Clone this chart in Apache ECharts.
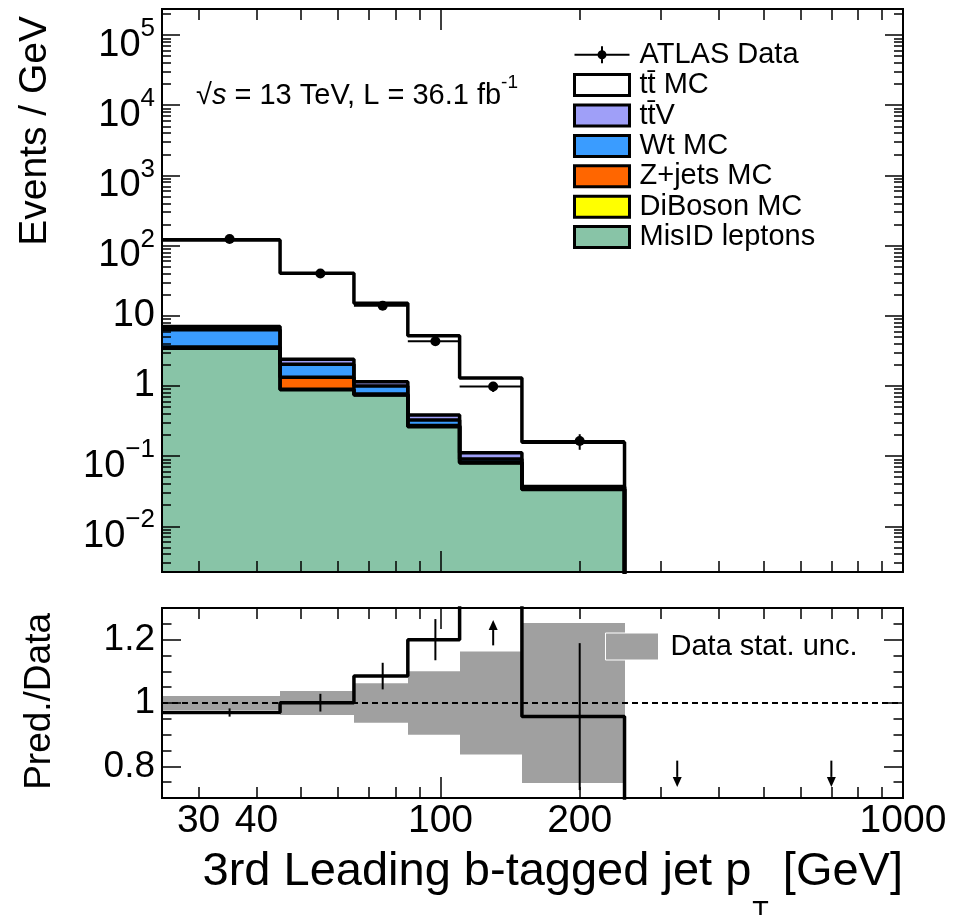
<!DOCTYPE html>
<html><head><meta charset="utf-8">
<script src="https://cdn.jsdelivr.net/npm/echarts@6/dist/echarts.min.js"></script>
<style>html,body{margin:0;padding:0;background:#fff}#c{width:967px;height:915px}</style>
</head><body><div id="c"></div>
<script>
// ---------------- data ----------------
const binEdges = [25, 45, 65, 85, 110, 150, 250, 400, 1000];
// stacked MC components per GeV (bins 25-45 ... 150-250)
const misID   = [3.45, 0.88, 0.74, 0.262, 0.080, 0.0335];
const diBoson = [0.03, 0.02, 0.01, 0.004, 0.001, 0.0003];
const zJets   = [0.12, 0.43, 0.02, 0.006, 0.001, 0.0003];
const wtMC    = [2.69, 0.71, 0.23, 0.055, 0.009, 0.0017];
const ttV     = [0.71, 0.36, 0.15, 0.059, 0.021, 0.0012];
const ttbarMC = [113, 38, 13.95, 4.81, 1.18, 0.120];
// ATLAS data
const dataVals = [124, 40, 13.9, 4.33, 0.98, 0.164];
const dataErr  = [2.7, 1.5, 0.86, 0.43, 0.16, 0.041];
// ratio panel (Pred./Data)
const ratioVals = [0.970, 1.001, 1.085, 1.200, 1.32, 0.957, 0, 0];
const ratioErr  = [0.013, 0.028, 0.042, 0.065, null, 0.232, null, null];
const statUnc   = [0.022, 0.038, 0.062, 0.100, 0.163, 0.253];
const arrowsUp   = [[130, 1.182, 1.262]];
const arrowsDown = [[325, 0.818, 0.735], [700, 0.818, 0.735]];
// axes / ticks
const xRange = [25, 1000];
const yRangeTop = [0.00223, 2.35e5];
const yRangeRatio = [0.7, 1.3];
const xMajorTicks = [100, 1000];
const xMinorTicks = [30, 40, 50, 60, 70, 80, 90, 200, 300, 400, 500, 600, 700, 800, 900];
const xTickLabels = [30, 40, 100, 200, 1000];
const yMajorTicks = [1e-2, 1e-1, 1, 10, 100, 1e3, 1e4, 1e5];
const yMinorTicks = [];
for (let k = -3; k <= 5; k++) for (let m = 2; m <= 9; m++) yMinorTicks.push(+(m * Math.pow(10, k)).toPrecision(6));
const rMajorTicks = [0.8, 1, 1.2];
const rMinorTicks = [0.75, 0.85, 0.9, 0.95, 1.05, 1.1, 1.15, 1.25];

const FF = '"Liberation Sans", Arial, Helvetica, sans-serif';
const TT = 't\u0074\u0304';

const layers = [
  {name: 'MisID leptons', vals: misID,   color: '#88c4a7'},
  {name: 'DiBoson MC',    vals: diBoson, color: '#ffff00'},
  {name: 'Z+jets MC',     vals: zJets,   color: '#ff6600'},
  {name: 'Wt MC',         vals: wtMC,    color: '#3a9cff'},
  {name: TT + 'V',        vals: ttV,     color: '#9f9ff8'},
  {name: TT + ' MC',      vals: ttbarMC, color: '#ffffff'}
];
const nB = misID.length;
let cum = new Array(nB).fill(0);
layers.forEach(L => { L.bottom = cum.slice(); cum = cum.map((c, i) => c + L.vals[i]); L.top = cum.slice(); });

function rectItem(params, api) {
  const p1 = api.coord([api.value(0), api.value(3)]);
  const p2 = api.coord([api.value(1), api.value(2)]);
  const x1 = Math.round(p1[0]), x2 = Math.round(p2[0]);
  return {type: 'rect', shape: {x: x1, y: p1[1], width: x2 - x1, height: p2[1] - p1[1]},
          style: {fill: api.visual('color')}};
}
function errItemFactory(withDot) {
  return function (params, api) {
    const xc = api.value(0), y = api.value(1), e = api.value(2), lo = api.value(3), hi = api.value(4);
    const pc = api.coord([xc, y]), pl = api.coord([lo, y]), ph = api.coord([hi, y]);
    const ch = [{type: 'line', shape: {x1: pl[0], y1: pc[1], x2: ph[0], y2: pc[1]}, style: {stroke: '#000', lineWidth: 2}}];
    const pt = api.coord([xc, y + e]), pb = api.coord([xc, y - e]);
    ch.push({type: 'line', shape: {x1: pc[0], y1: pt[1], x2: pc[0], y2: pb[1]}, style: {stroke: '#000', lineWidth: 2}});
    if (withDot) ch.push({type: 'circle', shape: {cx: pc[0], cy: pc[1], r: 5}, style: {fill: '#000'}});
    return {type: 'group', children: ch};
  };
}
function arrowItem(params, api) {
  const pf = api.coord([api.value(0), api.value(1)]);
  const pt = api.coord([api.value(0), api.value(2)]);
  const dir = pf[1] > pt[1] ? 1 : -1;
  const base = pt[1] + dir * 10;
  return {type: 'group', children: [
    {type: 'line', shape: {x1: pf[0], y1: pf[1], x2: pf[0], y2: base}, style: {stroke: '#000', lineWidth: 2}},
    {type: 'polygon', shape: {points: [[pt[0] - 4.5, base], [pt[0] + 4.5, base], [pt[0], pt[1]]]}, style: {fill: '#000'}}
  ]};
}

const series = [];
// stacked fills
layers.forEach(L => {
  series.push({
    name: L.name, type: 'custom', xAxisIndex: 0, yAxisIndex: 0, clip: true, z: 2,
    itemStyle: {color: L.color}, renderItem: rectItem, encode: {x: [0, 1], y: [2, 3]},
    data: L.vals.map((v, i) => [binEdges[i], binEdges[i + 1], L.bottom[i] > 0 ? L.bottom[i] : yRangeTop[0], L.top[i]])
  });
});
// outlines
layers.forEach((L, k) => {
  const pts = L.top.map((t, i) => [binEdges[i], t]);
  pts.push([binEdges[nB], L.top[nB - 1]]);
  pts.push([binEdges[nB], yRangeTop[0] / 10]);
  series.push({
    name: 'outline' + k, type: 'line', xAxisIndex: 0, yAxisIndex: 0, step: 'end', symbol: 'none', clip: true, z: 3,
    lineStyle: {color: '#000', width: 3.5}, itemStyle: {color: '#000'}, data: pts
  });
});
// data points
series.push({
  name: 'ATLAS Data', type: 'custom', xAxisIndex: 0, yAxisIndex: 0, clip: true, z: 4,
  itemStyle: {color: '#000'}, renderItem: errItemFactory(true), encode: {x: 0, y: 1},
  data: dataVals.map((v, i) => [(binEdges[i] + binEdges[i + 1]) / 2, v, dataErr[i], binEdges[i], binEdges[i + 1]])
});
// ratio: stat band
series.push({
  name: 'Data stat. unc.', type: 'custom', xAxisIndex: 4, yAxisIndex: 4, clip: true, z: 2,
  itemStyle: {color: '#a0a0a0'}, renderItem: rectItem, encode: {x: [0, 1], y: [2, 3]},
  data: statUnc.map((u, i) => [binEdges[i], binEdges[i + 1], 1 - u, 1 + u]),
  markLine: {silent: true, symbol: ['none', 'none'], label: {show: false}, z: 3,
    lineStyle: {color: '#000', width: 2, type: [6, 4]}, data: [{yAxis: 1}]}
});
// ratio step line
const rpts = ratioVals.map((r, i) => [binEdges[i], r]);
rpts.push([binEdges[ratioVals.length], ratioVals[ratioVals.length - 1]]);
series.push({
  name: 'ratioLine', type: 'line', xAxisIndex: 4, yAxisIndex: 4, step: 'end', symbol: 'none', clip: true, z: 4,
  lineStyle: {color: '#000', width: 3.5}, itemStyle: {color: '#000'}, data: rpts
});
// ratio crosses
series.push({
  name: 'ratioPts', type: 'custom', xAxisIndex: 4, yAxisIndex: 4, clip: true, z: 5,
  renderItem: errItemFactory(false), encode: {x: 0, y: 1},
  data: ratioVals.map((r, i) => ratioErr[i] == null ? null : [(binEdges[i] + binEdges[i + 1]) / 2, r, ratioErr[i], binEdges[i], binEdges[i + 1]]).filter(d => d)
});
series.push({
  name: 'arrows', type: 'custom', xAxisIndex: 4, yAxisIndex: 4, clip: false, z: 5,
  renderItem: arrowItem, encode: {x: 0, y: 1}, data: arrowsUp.concat(arrowsDown)
});

function xAx(grid, pos, ticks, len, extra) {
  return Object.assign({
    type: 'log', logBase: 10, gridIndex: grid, position: pos, min: xRange[0], max: xRange[1], z: 10,
    axisLine: {show: true, lineStyle: {color: '#000', width: 2}},
    axisTick: {show: true, inside: true, length: len, customValues: ticks, lineStyle: {color: '#000', width: 1.5}},
    axisLabel: {show: false}, splitLine: {show: false}
  }, extra || {});
}
function yAx(grid, pos, type, range, ticks, len, extra) {
  return Object.assign({
    type: type, gridIndex: grid, position: pos, min: range[0], max: range[1], z: 10,
    axisLine: {show: true, lineStyle: {color: '#000', width: 2}},
    axisTick: {show: true, inside: true, length: len, customValues: ticks, lineStyle: {color: '#000', width: 1.5}},
    axisLabel: {show: false}, splitLine: {show: false}
  }, type === 'log' ? {logBase: 10} : {}, extra || {});
}
function powLabel(v) {
  const e = Math.round(Math.log10(v));
  if (e === 0) return '{c|1}';
  if (e === 1) return '{c|10}';
  return '{b|10}{s|' + (e < 0 ? '\u2212' : '') + Math.abs(e) + '}';
}

const xAxes = [
  xAx(0, 'bottom', xMinorTicks, 11),
  xAx(0, 'bottom', xMajorTicks, 21),
  xAx(0, 'top', xMinorTicks, 11),
  xAx(0, 'top', xMajorTicks, 21),
  xAx(1, 'bottom', xMinorTicks, 11, {axisLabel: {show: true, customValues: xTickLabels, fontSize: 39, fontFamily: FF, color: '#000', margin: 4,
    formatter: v => String(Math.round(v))}}),
  xAx(1, 'bottom', xMajorTicks, 21),
  xAx(1, 'top', xMinorTicks, 11),
  xAx(1, 'top', xMajorTicks, 21)
];
const yAxes = [
  yAx(0, 'left', 'log', yRangeTop, yMinorTicks, 9, {axisLabel: {show: true, customValues: yMajorTicks, margin: 7, color: '#000',
    formatter: powLabel,
    rich: {
      b: {fontSize: 38, lineHeight: 38, padding: [10, 0, 0, 0], verticalAlign: 'top', fontFamily: FF, color: '#000'},
      s: {fontSize: 26, lineHeight: 26, verticalAlign: 'top', fontFamily: FF, color: '#000'},
      c: {fontSize: 38, lineHeight: 38, fontFamily: FF, color: '#000'}
    }}}),
  yAx(0, 'left', 'log', yRangeTop, yMajorTicks, 18),
  yAx(0, 'right', 'log', yRangeTop, yMinorTicks, 9),
  yAx(0, 'right', 'log', yRangeTop, yMajorTicks, 18),
  yAx(1, 'left', 'value', yRangeRatio, rMinorTicks, 9.5, {axisLabel: {show: true, customValues: rMajorTicks, margin: 7, fontSize: 37, fontFamily: FF, color: '#000'}}),
  yAx(1, 'left', 'value', yRangeRatio, rMajorTicks, 19),
  yAx(1, 'right', 'value', yRangeRatio, rMinorTicks, 9.5),
  yAx(1, 'right', 'value', yRangeRatio, rMajorTicks, 19)
];

const dataIcon = 'path://M0,9.5H55V11.5H0Z M26.5,2H28.5V19H26.5Z M32,10.5A4.5,4.5,0,1,1,23,10.5A4.5,4.5,0,1,1,32,10.5Z';

const option = {
  animation: false,
  backgroundColor: '#fff',
  grid: [
    {left: 162, top: 9, width: 741, height: 563},
    {left: 162, top: 608, width: 741, height: 190}
  ],
  xAxis: xAxes,
  yAxis: yAxes,
  legend: [
    {
      left: 568, top: 34.5, orient: 'vertical', itemWidth: 55, itemHeight: 21, itemGap: 0, z: 8,
      selectedMode: false,
      textStyle: {fontSize: 29, lineHeight: 30.4, fontFamily: FF, color: '#000', padding: [0, 0, 0, 5]},
      itemStyle: {borderColor: '#000', borderWidth: 3},
      data: [
        {name: 'ATLAS Data', icon: dataIcon, itemStyle: {color: '#000', borderWidth: 0}},
        {name: TT + ' MC', icon: 'rect'},
        {name: TT + 'V', icon: 'rect'},
        {name: 'Wt MC', icon: 'rect'},
        {name: 'Z+jets MC', icon: 'rect'},
        {name: 'DiBoson MC', icon: 'rect'},
        {name: 'MisID leptons', icon: 'rect'}
      ]
    },
    {
      left: 600, top: 626.5, orient: 'vertical', itemWidth: 53, itemHeight: 27, z: 8,
      selectedMode: false,
      textStyle: {fontSize: 29, lineHeight: 30, fontFamily: FF, color: '#000', padding: [0, 0, 0, 7]},
      itemStyle: {borderColor: '#fff', borderWidth: 1},
      data: [{name: 'Data stat. unc.', icon: 'rect'}]
    }
  ],
  graphic: [
    {type: 'text', x: 35, y: 16, rotation: Math.PI / 2, z: 20,
     style: {text: 'Events / GeV', fontSize: 39, fontFamily: FF, fill: '#000', align: 'right', verticalAlign: 'middle'}},
    {type: 'text', x: 40, y: 613, rotation: Math.PI / 2, z: 20,
     style: {text: 'Pred./Data', fontSize: 37, fontFamily: FF, fill: '#000', align: 'right', verticalAlign: 'middle'}},
    {type: 'text', x: 903, y: 849, z: 20,
     style: {text: '{n|3rd Leading b-tagged jet p}{sub|T}{n| [GeV]}', align: 'right', verticalAlign: 'top', fill: '#000',
       rich: {
         n: {fontSize: 47, lineHeight: 47, verticalAlign: 'top', fontFamily: FF, fill: '#000'},
         sub: {fontSize: 27, lineHeight: 27, padding: [50, 1, 0, 1], verticalAlign: 'top', fontFamily: FF, fill: '#000'}
       }}},
    {type: 'text', x: 196, y: 73.5, z: 20,
     style: {text: '{n|\u221A}{i|s}{n| = 13 TeV, L = 36.1 fb}{sup|-1}', align: 'left', verticalAlign: 'top', fill: '#000',
       rich: {
         n: {fontSize: 29, lineHeight: 29, padding: [8, 0, 0, 0], verticalAlign: 'top', fontFamily: FF, fill: '#000'},
         i: {fontSize: 29, lineHeight: 29, padding: [8, 0, 0, 0], verticalAlign: 'top', fontFamily: FF, fontStyle: 'italic', fill: '#000'},
         sup: {fontSize: 19, lineHeight: 19, verticalAlign: 'top', fontFamily: FF, fill: '#000'}
       }}}
  ],
  series: series
};
const chart = echarts.init(document.getElementById('c'), null, {renderer: 'canvas'});
chart.setOption(option);
</script>
</body></html>
